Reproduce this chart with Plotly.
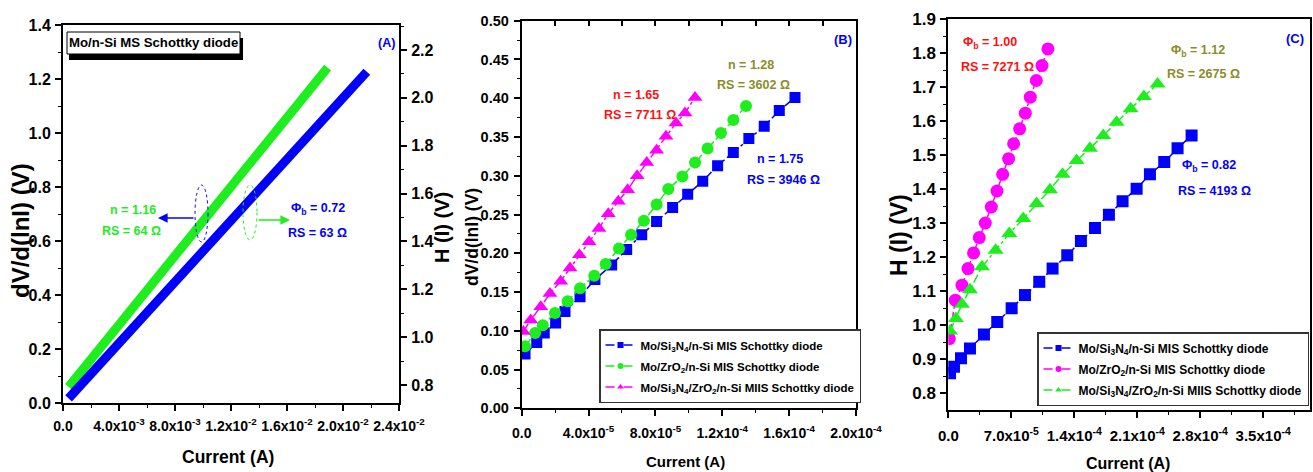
import plotly.graph_objects as go

W, H = 1313, 472
FONT = "Liberation Sans, Arial, sans-serif"
BLUE = "#0000FF"
GREEN = "#1EEE1E"
MAGENTA = "#FF00FF"
RED = "#FF1010"
OLIVE = "#8C8C28"

# ---------------- Panel A data ----------------
a_green_I = [0.0004, 0.005, 0.010, 0.015, 0.0189]
a_green_V = [0.061, 0.355, 0.674, 0.993, 1.242]      # dV/d(lnI) (V), left axis
a_blue_I = [0.0004, 0.005, 0.010, 0.015, 0.0217]
a_blue_H = [0.744, 1.041, 1.361, 1.681, 2.109]       # H(I) (V), right axis

# ---------------- Panel B data ----------------
b_sq_I = [2.0e-6, 9.0e-6, 1.35e-5, 2.03e-5, 2.59e-5, 3.49e-5, 4.38e-5, 5.38e-5, 6.28e-5,
          7.18e-5, 8.07e-5, 9.03e-5, 9.93e-5, 1.083e-4, 1.172e-4, 1.266e-4, 1.359e-4,
          1.451e-4, 1.541e-4, 1.635e-4]
b_sq_V = [0.070, 0.085, 0.097, 0.110, 0.125, 0.144, 0.166, 0.185, 0.205, 0.224, 0.241,
          0.259, 0.276, 0.293, 0.313, 0.330, 0.348, 0.364, 0.384, 0.401]
b_ci_I = [2.0e-6, 8.0e-6, 1.26e-5, 1.99e-5, 2.75e-5, 3.49e-5, 4.34e-5, 5.02e-5, 5.82e-5,
          6.54e-5, 7.31e-5, 8.07e-5, 8.77e-5, 9.61e-5, 1.037e-4, 1.112e-4, 1.192e-4,
          1.266e-4, 1.342e-4]
b_ci_V = [0.080, 0.097, 0.107, 0.123, 0.138, 0.155, 0.171, 0.186, 0.206, 0.224, 0.242,
          0.263, 0.283, 0.299, 0.317, 0.335, 0.355, 0.372, 0.390]
b_tr_I = [1.0e-6, 5.4e-6, 1.14e-5, 1.69e-5, 2.33e-5, 2.89e-5, 3.45e-5, 4.03e-5, 4.62e-5,
          5.18e-5, 5.78e-5, 6.34e-5, 6.91e-5, 7.48e-5, 8.07e-5, 8.63e-5, 9.23e-5,
          9.77e-5, 1.037e-4]
b_tr_V = [0.099, 0.114, 0.131, 0.148, 0.164, 0.181, 0.198, 0.215, 0.232, 0.251, 0.267,
          0.282, 0.300, 0.317, 0.333, 0.351, 0.368, 0.381, 0.401]

# ---------------- Panel C data ----------------
c_sq_I = [1.9e-6, 6.3e-6, 1.41e-5, 2.41e-5, 3.96e-5, 5.44e-5, 7.04e-5, 8.52e-5, 1.011e-4,
          1.159e-4, 1.322e-4, 1.474e-4, 1.630e-4, 1.785e-4, 1.937e-4, 2.093e-4,
          2.241e-4, 2.400e-4, 2.548e-4, 2.704e-4]
c_sq_H = [0.859, 0.878, 0.903, 0.932, 0.973, 1.010, 1.050, 1.089, 1.128, 1.167, 1.206,
          1.248, 1.286, 1.325, 1.365, 1.402, 1.444, 1.480, 1.521, 1.558]
c_ci_I = [1.1e-6, 7.8e-6, 1.52e-5, 2.19e-5, 2.81e-5, 3.44e-5, 4.11e-5, 4.78e-5, 5.41e-5,
          6.04e-5, 6.70e-5, 7.26e-5, 7.93e-5, 8.56e-5, 9.11e-5, 9.78e-5, 1.041e-4,
          1.107e-4]
c_ci_H = [0.961, 1.074, 1.118, 1.167, 1.213, 1.258, 1.301, 1.348, 1.395, 1.444, 1.490,
          1.534, 1.578, 1.624, 1.671, 1.720, 1.764, 1.813]
c_tr_I = [1.9e-6, 8.5e-6, 1.52e-5, 2.41e-5, 3.74e-5, 5.26e-5, 6.78e-5, 8.33e-5, 9.81e-5,
          1.13e-4, 1.27e-4, 1.426e-4, 1.574e-4, 1.722e-4, 1.870e-4, 2.026e-4, 2.174e-4,
          2.326e-4]
c_tr_H = [0.983, 1.020, 1.062, 1.105, 1.172, 1.221, 1.270, 1.314, 1.358, 1.399, 1.444,
          1.485, 1.521, 1.558, 1.597, 1.637, 1.673, 1.710]

# ---------------- tick labels ----------------
a_xtick_vals = [0, 0.004, 0.008, 0.012, 0.016, 0.020, 0.024]
a_xtick_text = ["0.0", "4.0x10<sup>-3</sup>", "8.0x10<sup>-3</sup>", "1.2x10<sup>-2</sup>",
                "1.6x10<sup>-2</sup>", "2.0x10<sup>-2</sup>", "2.4x10<sup>-2</sup>"]
b_xtick_vals = [0, 4e-5, 8e-5, 1.2e-4, 1.6e-4, 2.0e-4]
b_xtick_text = ["0.0", "4.0x10<sup>-5</sup>", "8.0x10<sup>-5</sup>", "1.2x10<sup>-4</sup>",
                "1.6x10<sup>-4</sup>", "2.0x10<sup>-4</sup>"]
c_xtick_vals = [0, 7e-5, 1.4e-4, 2.1e-4, 2.8e-4, 3.5e-4]
c_xtick_text = ["0.0", "7.0x10<sup>-5</sup>", "1.4x10<sup>-4</sup>", "2.1x10<sup>-4</sup>",
                "2.8x10<sup>-4</sup>", "3.5x10<sup>-4</sup>"]

leg_si3n4 = "Mo/Si<sub>3</sub>N<sub>4</sub>/n-Si MIS Schottky diode"
leg_zro2 = "Mo/ZrO<sub>2</sub>/n-Si MIS Schottky diode"
leg_both = "Mo/Si<sub>3</sub>N<sub>4</sub>/ZrO<sub>2</sub>/n-Si MIIS Schottky diode"


def fx(p):
    return p / W


def fy(p):
    return 1 - p / H


fig = go.Figure()

# Panel A
fig.add_trace(go.Scatter(x=a_green_I, y=a_green_V, mode="lines", xaxis="x", yaxis="y",
                         line=dict(color=GREEN, width=9), showlegend=False,
                         name="dV/d(lnI) Mo/n-Si"))
fig.add_trace(go.Scatter(x=a_blue_I, y=a_blue_H, mode="lines", xaxis="x", yaxis="y2",
                         line=dict(color=BLUE, width=9), showlegend=False,
                         name="H(I) Mo/n-Si"))

group_counter = [0]


def add_series(x, y, xa, ya, color, symbol, size, name, legend):
    fig.add_trace(go.Scatter(x=x, y=y, mode="lines+markers", xaxis=xa, yaxis=ya,
                             line=dict(color=color, width=1.5, dash="dashdot"),
                             marker=dict(color=color, symbol=symbol, size=size),
                             showlegend=False, name=name))
    # legend entry with small marker like the original
    group_counter[0] += 1
    fig.add_trace(go.Scatter(x=[None], y=[None], mode="lines+markers", xaxis=xa, yaxis=ya,
                             line=dict(color=color, width=1.5, dash="dash"),
                             marker=dict(color=color, symbol=symbol, size=6),
                             name=name, legend=legend,
                             legendgroup="g%d" % group_counter[0]))


add_series(b_sq_I, b_sq_V, "x2", "y3", BLUE, "square", 11, leg_si3n4, "legend")
add_series(b_ci_I, b_ci_V, "x2", "y3", GREEN, "circle", 12, leg_zro2, "legend")
add_series(b_tr_I, b_tr_V, "x2", "y3", MAGENTA, "triangle-up", 13, leg_both, "legend")

add_series(c_sq_I, c_sq_H, "x3", "y4", BLUE, "square", 12, leg_si3n4, "legend2")
add_series(c_ci_I, c_ci_H, "x3", "y4", MAGENTA, "circle", 13, leg_zro2, "legend2")
add_series(c_tr_I, c_tr_H, "x3", "y4", GREEN, "triangle-up", 14, leg_both, "legend2")


def tf(size):
    return dict(family=FONT, size=size, color="black", weight="bold")


common = dict(showline=True, linecolor="black", linewidth=2, ticks="outside",
              ticklen=6, tickwidth=1.5, tickcolor="black", showgrid=False,
              zeroline=False, tickangle=0, automargin=False)


def minor(d):
    return dict(dtick=d, ticks="outside", ticklen=3, tickwidth=1.2, tickcolor="black")


fig.update_layout(
    template="none",
    width=W, height=H, margin=dict(l=0, r=0, t=0, b=0, pad=0), autosize=False,
    paper_bgcolor="white", plot_bgcolor="white",
    font=dict(family=FONT, color="black"),
    xaxis=dict(domain=[fx(63), fx(399)], anchor="y", range=[0, 0.024],
               tickvals=a_xtick_vals, ticktext=a_xtick_text, tickfont=tf(14),
               mirror=True, ticklabelstandoff=3, minor=minor(0.002), **common),
    yaxis=dict(domain=[fy(403.3), fy(25)], anchor="x", range=[0, 1.4], dtick=0.2,
               tickformat=".1f", tickfont=tf(16), mirror=True, ticklabelstandoff=1,
               minor=minor(0.1), **common),
    yaxis2=dict(anchor="x", overlaying="y", side="right", range=[0.7235, 2.3045],
                tickvals=[0.8, 1.0, 1.2, 1.4, 1.6, 1.8, 2.0, 2.2], tickformat=".1f",
                tickfont=tf(16), ticklabelstandoff=1, minor=minor(0.1), **common),
    xaxis2=dict(domain=[fx(521.7), fx(856)], anchor="y3", range=[0, 2e-4],
                tickvals=b_xtick_vals, ticktext=b_xtick_text, tickfont=tf(14),
                mirror=True, ticklabelstandoff=5, minor=minor(2e-5), **common),
    # inward ticks along the top edge of panel B
    xaxis4=dict(overlaying="x2", anchor="y3", side="top", range=[0, 2e-4],
                tick0=0, dtick=2e-5, ticks="inside", ticklen=5, tickwidth=1.5,
                tickcolor="black", showticklabels=False, showline=False,
                showgrid=False, zeroline=False, automargin=False),
    yaxis3=dict(domain=[fy(408.3), fy(20.7)], anchor="x2", range=[0, 0.5], dtick=0.05,
                tickformat=".2f", tickfont=tf(14.5), mirror=True, ticklabelstandoff=2,
                minor=minor(0.025), **common),
    xaxis3=dict(domain=[fx(948.3), fx(1310)], anchor="y4", range=[0, 4.02e-4],
                tickvals=c_xtick_vals, ticktext=c_xtick_text, tickfont=tf(15),
                mirror=True, ticklabelstandoff=5, minor=minor(3.5e-5), **common),
    yaxis4=dict(domain=[fy(410), fy(19.3)], anchor="x3", range=[0.751, 1.9], dtick=0.1,
                tickformat=".1f", tickfont=tf(17), mirror=True, ticklabelstandoff=1,
                minor=minor(0.05), **common),
    legend=dict(x=fx(599), y=fy(329), xanchor="left", yanchor="top",
                bgcolor="white", bordercolor="#333333", borderwidth=1.5,
                font=tf(11.5), tracegroupgap=2, itemwidth=30),
    legend2=dict(x=fx(1037), y=fy(332), xanchor="left", yanchor="top",
                 bgcolor="white", bordercolor="#333333", borderwidth=1.5,
                 font=tf(12), tracegroupgap=2, itemwidth=30),
)

# an invisible carrier so the top tick axis of panel B is drawn
fig.add_trace(go.Scatter(x=[None], y=[None], xaxis="x4", yaxis="y3", mode="markers",
                         showlegend=False, hoverinfo="skip"))

anns = []


def ann(text, x, y, color, size=12, angle=0):
    anns.append(dict(text=text, x=fx(x), y=fy(y), xref="paper", yref="paper",
                     xanchor="center", yanchor="middle", showarrow=False,
                     textangle=angle,
                     font=dict(family=FONT, size=size, color=color, weight="bold")))


# axis titles
ann("dV/d(lnI) (V)", 21, 231, "black", 24, -90)
ann("H (I) (V)", 442, 228, "black", 20, -90)
ann("Current (A)", 228, 457, "black", 17.5)
ann("dV/d(lnI) (V)", 472, 237, "black", 17.5, -90)
ann("Current (A)", 685, 461, "black", 15)
ann("H (I) (V)", 899, 235, "black", 23, -90)
ann("Current (A)", 1128, 463, "black", 16)

# Panel A annotations
ann("Mo/n-Si MS Schottky diode", 153.5, 43, "black", 13.2)
ann("(A)", 387, 43, BLUE, 12.5)
ann("n = 1.16", 133, 210, GREEN, 12.5)
ann("RS = 64 Ω", 131, 231, GREEN, 12.5)
ann("Φ<sub>b</sub> = 0.72", 318, 209, BLUE, 12.5)
ann("RS = 63 Ω", 317.5, 233, BLUE, 12.5)

# Panel B annotations
ann("(B)", 843, 39.5, BLUE, 13)
ann("n = 1.65", 635.5, 95, RED, 12.5)
ann("RS = 7711 Ω", 640, 115, RED, 12.5)
ann("n = 1.28", 750.5, 64.7, OLIVE, 12.5)
ann("RS = 3602 Ω", 754, 85.3, OLIVE, 12.5)
ann("n = 1.75", 780, 159, BLUE, 12.5)
ann("RS = 3946 Ω", 783.7, 180, BLUE, 12.5)

# Panel C annotations
ann("(C)", 1294.7, 38.3, BLUE, 13)
ann("Φ<sub>b</sub> = 1.00", 990, 43, RED, 12.5)
ann("RS = 7271 Ω", 997, 67, RED, 12.5)
ann("Φ<sub>b</sub> = 1.12", 1197.5, 51, OLIVE, 12.5)
ann("RS = 2675 Ω", 1203.7, 74, OLIVE, 12.5)
ann("Φ<sub>b</sub> = 0.82", 1208.8, 166, BLUE, 12.5)
ann("RS = 4193 Ω", 1214.5, 190.8, BLUE, 12.5)

# arrows in panel A
anns.append(dict(x=fx(158), y=fy(218), xref="paper", yref="paper", ax=37, ay=0,
                 text="", showarrow=True, arrowhead=2, arrowsize=1.2, arrowwidth=1.6,
                 arrowcolor=BLUE))
anns.append(dict(x=fx(290), y=fy(220), xref="paper", yref="paper", ax=-33, ay=0,
                 text="", showarrow=True, arrowhead=2, arrowsize=1.2, arrowwidth=1.6,
                 arrowcolor=GREEN))

fig.update_layout(annotations=anns)

shapes = [
    # title box shadow and box
    dict(type="rect", xref="paper", yref="paper", x0=fx(69), x1=fx(243), y0=fy(60), y1=fy(38),
         fillcolor="black", line=dict(width=0), layer="above"),
    dict(type="rect", xref="paper", yref="paper", x0=fx(67), x1=fx(240), y0=fy(54), y1=fy(32),
         fillcolor="white", line=dict(color="black", width=1), layer="above"),
    # dotted ellipses
    dict(type="circle", xref="paper", yref="paper", x0=fx(195), x1=fx(208), y0=fy(242), y1=fy(185),
         line=dict(color=BLUE, width=1, dash="dot"), layer="above"),
    dict(type="circle", xref="paper", yref="paper", x0=fx(243), x1=fx(257), y0=fy(240), y1=fy(185),
         line=dict(color=GREEN, width=1, dash="dot"), layer="above"),
]
fig.update_layout(shapes=shapes)

fig.write_html("out.html")
